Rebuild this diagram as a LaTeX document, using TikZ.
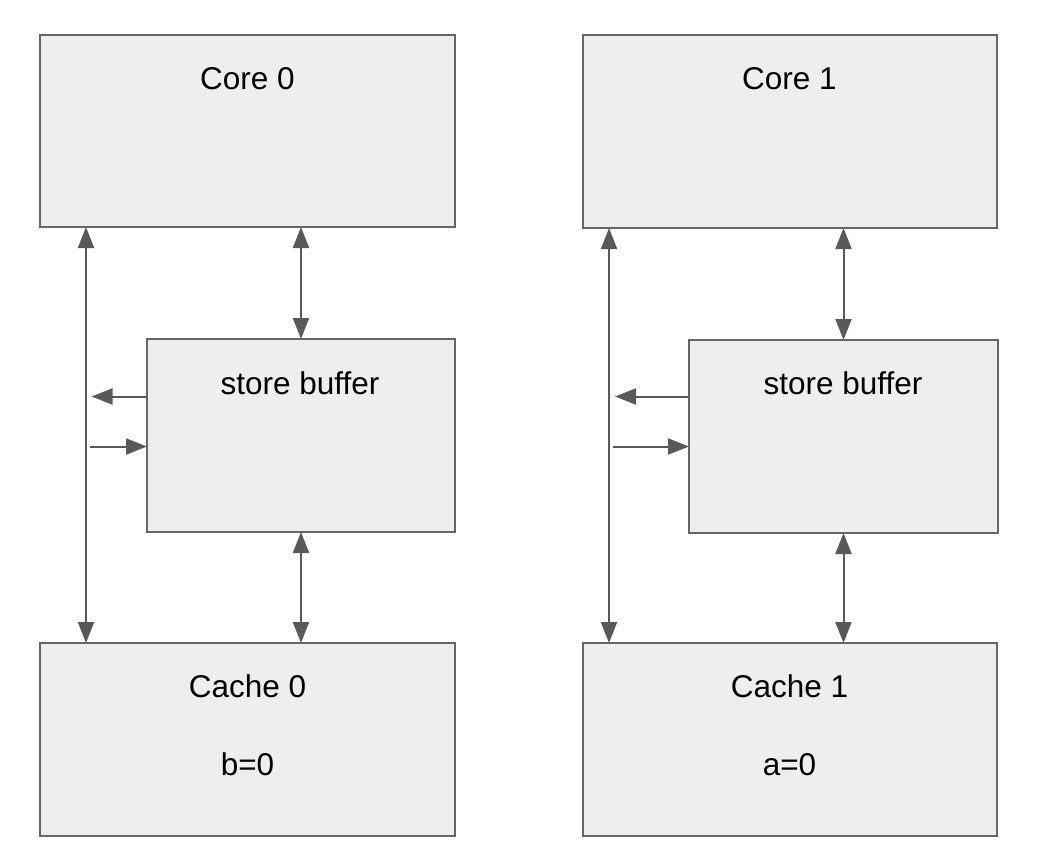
\documentclass[tikz,border=0pt]{standalone}
\usepackage{fontspec}
\setmainfont{Liberation Sans}
\usetikzlibrary{arrows.meta}
\definecolor{boxfill}{HTML}{EEEEEE}
\definecolor{boxline}{HTML}{666666}
\definecolor{arrcol}{HTML}{595959}
\begin{document}
\begin{tikzpicture}[x=1pt,y=-1pt,
  box/.style={draw=boxline,fill=boxfill,line width=2pt,rectangle,inner sep=0pt,outer sep=0pt},
  lbl/.style={anchor=base,inner sep=0pt,font=\fontsize{31.5}{38}\selectfont},
  conn/.style={draw=arrcol,line width=2pt,-{Triangle[length=21pt,width=16pt]}},
  dconn/.style={draw=arrcol,line width=2pt,{Triangle[length=21pt,width=16pt]}-{Triangle[length=21pt,width=16pt]}}]
\useasboundingbox (0,0) rectangle (1040,864);
% boxes
\node[box,minimum width=415pt,minimum height=192pt] (core0) at (247.5,131) {};
\node[box,minimum width=414pt,minimum height=193pt] (core1) at (790,131.5) {};
\node[box,minimum width=308pt,minimum height=193pt] (sb0) at (301,435.5) {};
\node[box,minimum width=309pt,minimum height=193pt] (sb1) at (843.5,436.5) {};
\node[box,minimum width=415pt,minimum height=193pt] (cache0) at (247.5,739.5) {};
\node[box,minimum width=414pt,minimum height=193pt] (cache1) at (790,739.5) {};
% labels
\node[lbl] (core0t) at (247.5,90) {Core 0};
\node[lbl] (core1t) at (789.5,90) {Core 1};
\node[lbl] (sb0t) at (300,394) {store buffer};
\node[lbl] (sb1t) at (843,394.5) {store buffer};
\node[lbl] (cache0t) at (247.5,697.5) {Cache 0};
\node[lbl] (cache0v) at (247.5,775.5) {b=0};
\node[lbl] (cache1t) at (789.5,697.5) {Cache 1};
\node[lbl] (cache1v) at (789.5,775.5) {a=0};
% free ends
\coordinate (l0a) at (91.5,396.5);
\coordinate (l0b) at (89.5,446.5);
\coordinate (l1a) at (615,396.5);
\coordinate (l1b) at (612.5,446.5);
% left column connectors
\draw[dconn] ([xshift=46pt]core0.south west) -- ([xshift=46pt]cache0.north west);
\draw[dconn] (sb0.north |- core0.south) -- (sb0.north);
\draw[dconn] (sb0.south) -- (sb0.south |- cache0.north);
\draw[conn] (sb0.west |- l0a) -- (l0a);
\draw[conn] (l0b) -- (sb0.west |- l0b);
% right column connectors
\draw[dconn] ([xshift=26pt]core1.south west) -- ([xshift=26pt]cache1.north west);
\draw[dconn] (sb1.north |- core1.south) -- (sb1.north);
\draw[dconn] (sb1.south) -- (sb1.south |- cache1.north);
\draw[conn] (sb1.west |- l1a) -- (l1a);
\draw[conn] (l1b) -- (sb1.west |- l1b);
\end{tikzpicture}
\end{document}
